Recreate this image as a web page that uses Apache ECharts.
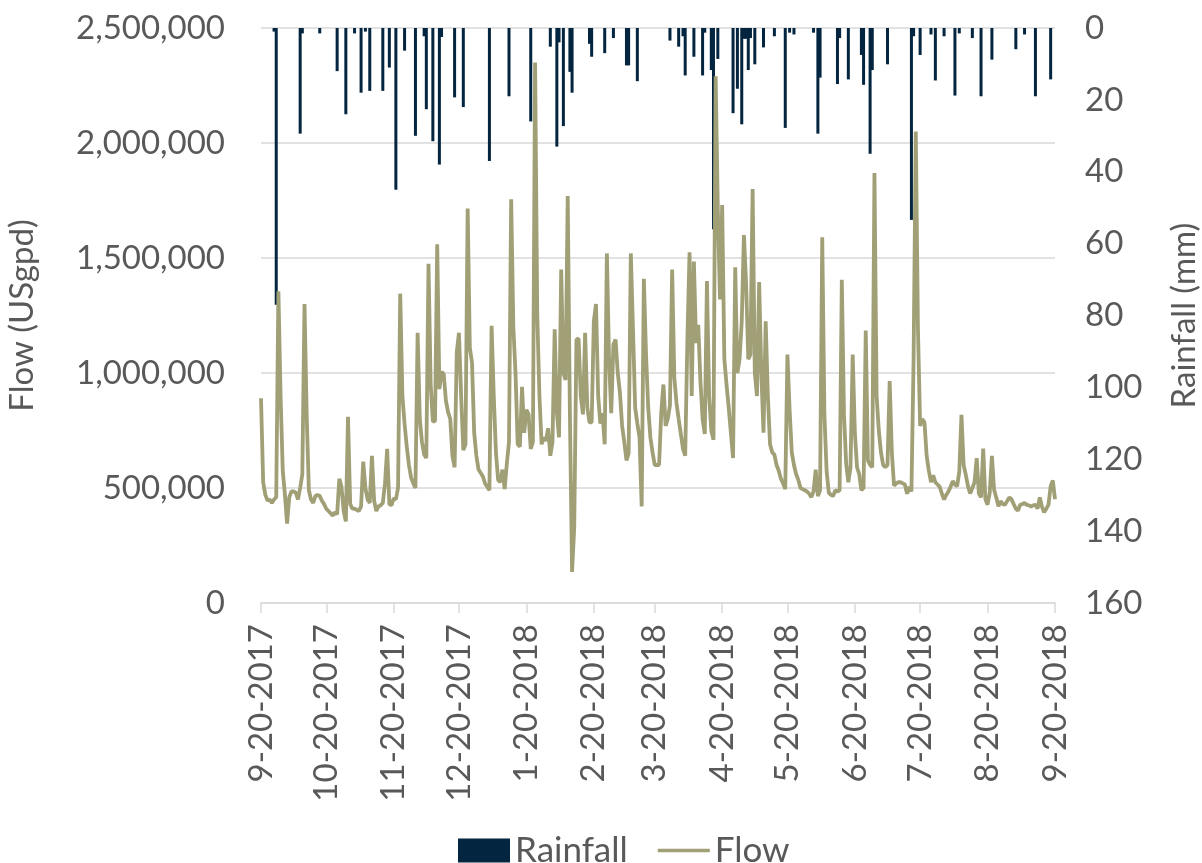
<!DOCTYPE html>
<html>
<head>
<meta charset="utf-8">
<script src="https://cdn.jsdelivr.net/npm/echarts@6/dist/echarts.min.js"></script>
<style>
  html, body { margin: 0; padding: 0; background: #fff; overflow: hidden; }
  #chart { width: 1202px; height: 863px; display: block; }
</style>
</head>
<body>
<div id="chart"></div>
<script>
// daily series, 9-20-2017 .. 9-20-2018 (366 days)
var startYear = 2017, startMonth = 9, startDay = 20, dayCount = 366;

// flow in USgpd, one value per day
var flow = [
  890000, 525000, 470000, 445000, 450000, 435000, 450000, 460000, 1355000, 900000,
  575000, 470000, 345000, 460000, 485000, 485000, 480000, 450000, 500000, 560000,
  1300000, 820000, 490000, 450000, 435000, 465000, 470000, 465000, 445000, 430000,
  410000, 400000, 390000, 380000, 395000, 385000, 540000, 505000, 400000, 355000,
  810000, 430000, 410000, 410000, 405000, 400000, 420000, 615000, 500000, 450000,
  435000, 640000, 445000, 400000, 420000, 425000, 435000, 520000, 670000, 430000,
  425000, 455000, 450000, 500000, 1345000, 900000, 780000, 680000, 600000, 545000,
  520000, 500000, 1175000, 800000, 700000, 645000, 630000, 1475000, 950000, 790000,
  790000, 1560000, 930000, 1005000, 995000, 880000, 830000, 800000, 640000, 590000,
  1090000, 1175000, 900000, 665000, 690000, 1715000, 1110000, 1045000, 740000, 640000,
  580000, 565000, 550000, 520000, 505000, 490000, 1205000, 900000, 655000, 535000,
  525000, 580000, 495000, 605000, 700000, 1755000, 1200000, 1000000, 690000, 680000,
  940000, 740000, 840000, 820000, 670000, 700000, 2350000, 1250000, 900000, 690000,
  720000, 705000, 760000, 640000, 700000, 1190000, 830000, 720000, 1450000, 1000000,
  970000, 1770000, 820000, 135000, 330000, 1145000, 1150000, 900000, 820000, 1175000,
  850000, 785000, 785000, 1225000, 1300000, 900000, 780000, 825000, 690000, 1520000,
  1060000, 825000, 1125000, 1145000, 1000000, 915000, 770000, 700000, 620000, 650000,
  1520000, 1190000, 850000, 780000, 720000, 420000, 1410000, 1080000, 850000, 720000,
  655000, 600000, 600000, 600000, 830000, 950000, 770000, 800000, 860000, 1450000,
  980000, 870000, 800000, 735000, 670000, 640000, 1140000, 1525000, 900000, 1485000,
  1130000, 1210000, 965000, 800000, 735000, 1400000, 900000, 750000, 710000, 2290000,
  1710000, 1320000, 1730000, 1060000, 950000, 850000, 740000, 630000, 1460000, 1000000,
  1060000, 1225000, 1600000, 1390000, 1060000, 1080000, 1800000, 1000000, 900000, 1395000,
  1000000, 740000, 1225000, 900000, 690000, 655000, 645000, 600000, 575000, 540000,
  520000, 495000, 1080000, 840000, 655000, 600000, 560000, 535000, 500000, 495000,
  490000, 485000, 475000, 460000, 485000, 580000, 465000, 490000, 1590000, 820000,
  575000, 480000, 470000, 465000, 490000, 485000, 490000, 1405000, 820000, 605000,
  525000, 590000, 1080000, 740000, 590000, 560000, 490000, 500000, 1185000, 620000,
  600000, 590000, 1870000, 900000, 750000, 655000, 600000, 590000, 600000, 965000,
  655000, 510000, 520000, 525000, 525000, 520000, 515000, 475000, 505000, 485000,
  1060000, 2050000, 1190000, 770000, 800000, 785000, 640000, 575000, 525000, 555000,
  525000, 515000, 505000, 475000, 450000, 470000, 485000, 505000, 530000, 515000,
  508000, 570000, 818000, 600000, 557000, 508000, 476000, 500000, 524000, 630000,
  476000, 459000, 671000, 451000, 427000, 480000, 640000, 492000, 459000, 420000,
  443000, 430000, 427000, 443000, 459000, 451000, 430000, 410000, 402000, 427000,
  430000, 435000, 427000, 425000, 419000, 425000, 427000, 410000, 459000, 419000,
  394000, 410000, 427000, 508000, 533000, 451000
];

// rainfall in mm, one value per day
var rainfall = [
  0, 0, 0, 0, 0, 0, 1, 77, 0, 0,
  0, 0, 0, 0, 0, 0, 0, 0, 29.4, 1.5,
  0, 0, 0, 0, 0, 0, 0, 1.5, 0, 0,
  0, 0, 0, 0, 0, 12, 0, 0, 0, 24,
  0, 0, 0, 1.5, 0, 0, 18, 0, 1, 0,
  17.5, 0, 0, 0, 0, 0, 17.5, 0, 0, 11,
  0, 0, 45, 0, 0, 0, 6.3, 0, 0, 0,
  0, 30, 0, 0, 0, 2.3, 22.6, 0, 0, 31.5,
  0, 0, 38, 2.5, 0, 0, 0, 0, 0, 19.3,
  0, 0, 0, 22, 0, 0, 0, 0, 0, 0,
  0, 0, 0, 0, 0, 37, 0, 0, 0, 0,
  0, 0, 0, 0, 19, 0, 0, 0, 0, 0,
  0, 0, 0, 0, 26, 0, 0, 0, 0, 0,
  0, 0, 0, 5.2, 0, 0, 33, 4, 0, 27.3,
  0, 0, 12.2, 18, 0, 0, 0, 0, 0, 0,
  0, 4.4, 8, 0, 0, 0, 0, 0, 7, 0,
  0, 0, 2.8, 0, 0, 0, 0, 0, 10.4, 10.4,
  0, 0, 0, 14.8, 0, 0, 0, 0, 0, 0,
  0, 0, 0, 0, 0, 0, 0, 0, 3.5, 0,
  0, 0, 5.2, 0, 2.3, 13.2, 0, 0, 0, 8,
  0, 0, 0, 13.2, 1.3, 0, 0, 11.7, 56, 0,
  8.6, 0, 0, 0, 0, 0, 0, 23.7, 0, 16.9,
  0, 26.8, 3, 3, 11.7, 2.8, 0, 10.1, 0, 0,
  0, 5.4, 0, 0, 0, 0, 2.3, 0, 0, 0,
  0, 27.8, 0, 1.3, 0, 1.8, 0, 0, 0, 0,
  0, 0, 0, 0, 1.3, 0, 29.4, 13.8, 0, 0,
  0, 0, 0, 0, 0, 15.6, 2.8, 0, 0, 0,
  14.3, 0, 0, 0, 0, 0, 7.5, 15.8, 0, 0,
  35, 11.7, 0, 0, 0, 0, 0, 0, 10.1, 0,
  0, 0, 0, 0, 0, 0, 0, 0, 0, 53.4,
  2.3, 0, 0, 7.5, 0, 0, 0, 0, 1.8, 0,
  14.6, 0, 0, 0, 2.3, 0, 0, 0, 0, 18.8,
  0, 1.5, 0, 0, 0, 0, 0, 2.8, 0, 0,
  0, 19, 0, 0, 0, 0, 8.8, 0, 0, 0,
  0, 0, 0, 0, 0, 0, 0, 5.9, 0, 0,
  0, 1.8, 0, 0, 0, 0, 19, 0, 0, 0,
  0, 0, 0, 14.3, 0, 0
];

// axis ranges / ticks
var flowTicks = [0, 500000, 1000000, 1500000, 2000000, 2500000];
var rainTicks = [0, 20, 40, 60, 80, 100, 120, 140, 160];
var labelDay = 20; // x labels on the 20th of each month

// date categories  M-D-YYYY
var dates = [];
for (var i = 0; i < dayCount; i++) {
    var d = new Date(Date.UTC(startYear, startMonth - 1, startDay + i));
    dates.push((d.getUTCMonth() + 1) + '-' + d.getUTCDate() + '-' + d.getUTCFullYear());
}

function isLabelDay(idx, val) {
    return Number(val.split('-')[1]) === labelDay;
}

var textColor = '#595959';
var rainColor = '#03253F';
var flowColor = '#A09F76';
var font = 'Lato, "Open Sans", sans-serif';
var axisFont = 33;

var myChart = echarts.init(document.getElementById('chart'));
myChart.setOption({
    animation: false,
    textStyle: { fontFamily: font },
    grid: { left: 261, right: 147, top: 28, bottom: 260, containLabel: false, outerBoundsMode: 'none' },
    legend: {
        top: 828,
        left: 453,
        itemWidth: 52,
        itemHeight: 24,
        itemGap: 30,
        textStyle: { fontSize: 35, color: textColor, fontFamily: font },
        data: [
            { name: 'Rainfall', icon: 'rect' },
            { name: 'Flow', icon: 'path://M0,0L52,0L52,3.5L0,3.5Z', itemStyle: { color: flowColor } }
        ]
    },
    xAxis: {
        type: 'category',
        data: dates,
        boundaryGap: false,
        axisLine: { lineStyle: { color: '#D9D9D9', width: 1.5 } },
        axisTick: { show: true, interval: isLabelDay, length: 10, lineStyle: { color: '#D9D9D9', width: 1.5 } },
        axisLabel: {
            interval: isLabelDay,
            rotate: 90,
            margin: 21,
            fontSize: axisFont,
            color: textColor,
            fontFamily: font
        },
        splitLine: { show: false }
    },
    yAxis: [
        {
            type: 'value',
            name: 'Flow (USgpd)',
            nameLocation: 'middle',
            nameRotate: 90,
            nameGap: 222,
            nameTextStyle: { fontSize: axisFont, color: textColor, fontFamily: font },
            min: flowTicks[0],
            max: flowTicks[flowTicks.length - 1],
            interval: flowTicks[1] - flowTicks[0],
            axisLine: { show: false },
            axisTick: { show: false },
            axisLabel: {
                fontSize: axisFont, color: textColor, margin: 36, fontFamily: font,
                formatter: function (v) { return String(v).replace(/\B(?=(\d{3})+(?!\d))/g, ','); }
            },
            splitLine: { lineStyle: { color: '#D9D9D9', width: 1.5 } }
        },
        {
            type: 'value',
            name: 'Rainfall (mm)',
            nameLocation: 'middle',
            nameRotate: 90,
            nameGap: 113,
            nameTextStyle: { fontSize: axisFont, color: textColor, fontFamily: font },
            inverse: true,
            min: rainTicks[0],
            max: rainTicks[rainTicks.length - 1],
            interval: rainTicks[1] - rainTicks[0],
            axisLine: { show: false },
            axisTick: { show: false },
            axisLabel: { fontSize: axisFont, color: textColor, margin: 30, fontFamily: font },
            splitLine: { show: false }
        }
    ],
    series: [
        {
            name: 'Rainfall',
            type: 'bar',
            yAxisIndex: 1,
            data: rainfall,
            barWidth: 3,
            itemStyle: { color: rainColor },
            z: 2
        },
        {
            name: 'Flow',
            type: 'line',
            yAxisIndex: 0,
            data: flow,
            symbol: 'none',
            showSymbol: false,
            lineStyle: { color: flowColor, width: 3.8 },
            itemStyle: { color: flowColor },
            z: 3
        }
    ]
});
</script>
</body>
</html>
